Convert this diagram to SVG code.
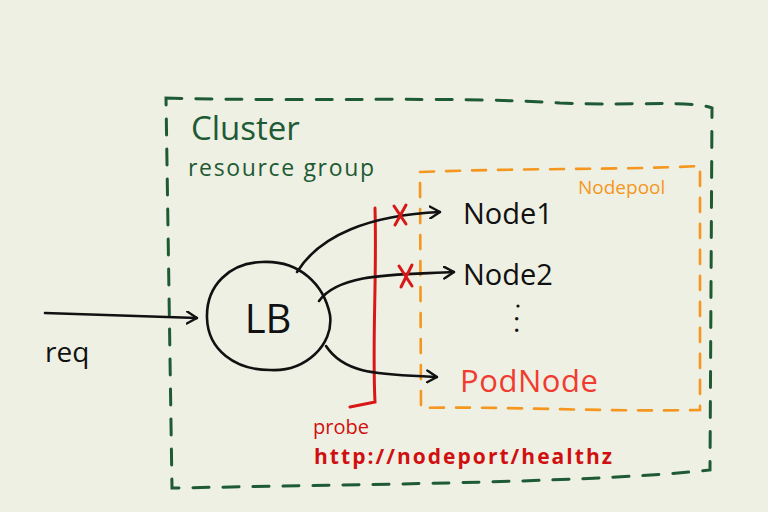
<svg xmlns="http://www.w3.org/2000/svg" width="768" height="512" viewBox="0 0 768 512">
<defs>
<marker id="ah" viewBox="0 0 12 14" refX="11" refY="7" markerWidth="12" markerHeight="14" markerUnits="userSpaceOnUse" orient="auto">
<path d="M1,1 L11,7 L1,13" fill="none" stroke="#111" stroke-width="2.4" stroke-linecap="round" stroke-linejoin="round"/>
</marker>
<style>
.g{fill:none;stroke:#1e5a34;stroke-width:3;stroke-dasharray:16 14;stroke-linecap:round}
.o{fill:none;stroke:#f5961e;stroke-width:2.6;stroke-dasharray:14 12;stroke-linecap:round}
.k{fill:none;stroke:#111;stroke-width:2.6;stroke-linecap:round}
.r{fill:none;stroke:#d81818;stroke-width:3;stroke-linecap:round}
.t{font-family:"Open Sans","Liberation Sans",sans-serif}
</style>
</defs>
<rect width="768" height="512" fill="#eef0e3"/>
<g id="cluster">
<path class="g" d="M166,98 C300,102 450,96 560,103 C640,106 690,100 712,108 L710,470 C600,482 400,484 172,488 Z"/>
<text class="t" x="191" y="140" font-size="33" fill="#1e5a34">Cluster</text>
<text class="t" x="188" y="176" font-size="23" fill="#1e5a34" textLength="186">resource group</text>
</g>
<g id="nodepool">
<path class="o" d="M420,172 C520,168 620,170 700,166 L700,410 C600,412 500,406 421,408 Z"/>
<text class="t" x="578" y="194" font-size="19" fill="#f5961e">Nodepool</text>
</g>
<g id="lb">
<path class="k" d="M262,262 C300,260 324,285 330,315 C334,345 305,372 270,370 C235,370 208,350 207,318 C206,285 230,263 262,262 Z"/>
<text class="t" x="268" y="333" font-size="40" fill="#111" text-anchor="middle">LB</text>
</g>
<g id="req">
<text class="t" x="45" y="362" font-size="28" fill="#111">req</text>
</g>
<g id="node1"><text class="t" x="463" y="224" font-size="29" fill="#111">Node1</text></g>
<g id="node2"><text class="t" x="463" y="285" font-size="29" fill="#111">Node2</text></g>
<g id="dots"><text class="t" x="513" y="332" font-size="28" fill="#111">:</text><circle cx="518" cy="306" r="1.6" fill="#111"/></g>
<g id="podnode"><text class="t" x="460" y="392" font-size="31" fill="#f03c30" textLength="138">PodNode</text></g>
<g id="probe">
<path class="r" d="M375,208 C377,280 372,340 375,402 L350,407"/>
<text class="t" x="313" y="434" font-size="20" fill="#d01010">probe</text>
<text class="t" x="314" y="464" font-size="21" fill="#d01010" font-weight="bold" textLength="298">http://nodeport/healthz</text>
</g>
<g id="connectors">
<path class="k" d="M45,313 C100,315 150,316 197,318" marker-end="url(#ah)"/>
<path class="k" d="M297,272 C320,235 370,215 440,212" marker-end="url(#ah)"/>
<path class="k" d="M319,301 C340,272 400,275 454,272" marker-end="url(#ah)"/>
<path class="k" d="M326,346 C345,375 380,374 437,377" marker-end="url(#ah)"/>
<path class="r" d="M394,206 L406,224 M406,205 L395,225" stroke-width="2.4" stroke="#e03a30"/>
<path class="r" d="M399,266 L412,286 M412,265 L401,287" stroke-width="2.4" stroke="#e03a30"/>
</g>
</svg>
